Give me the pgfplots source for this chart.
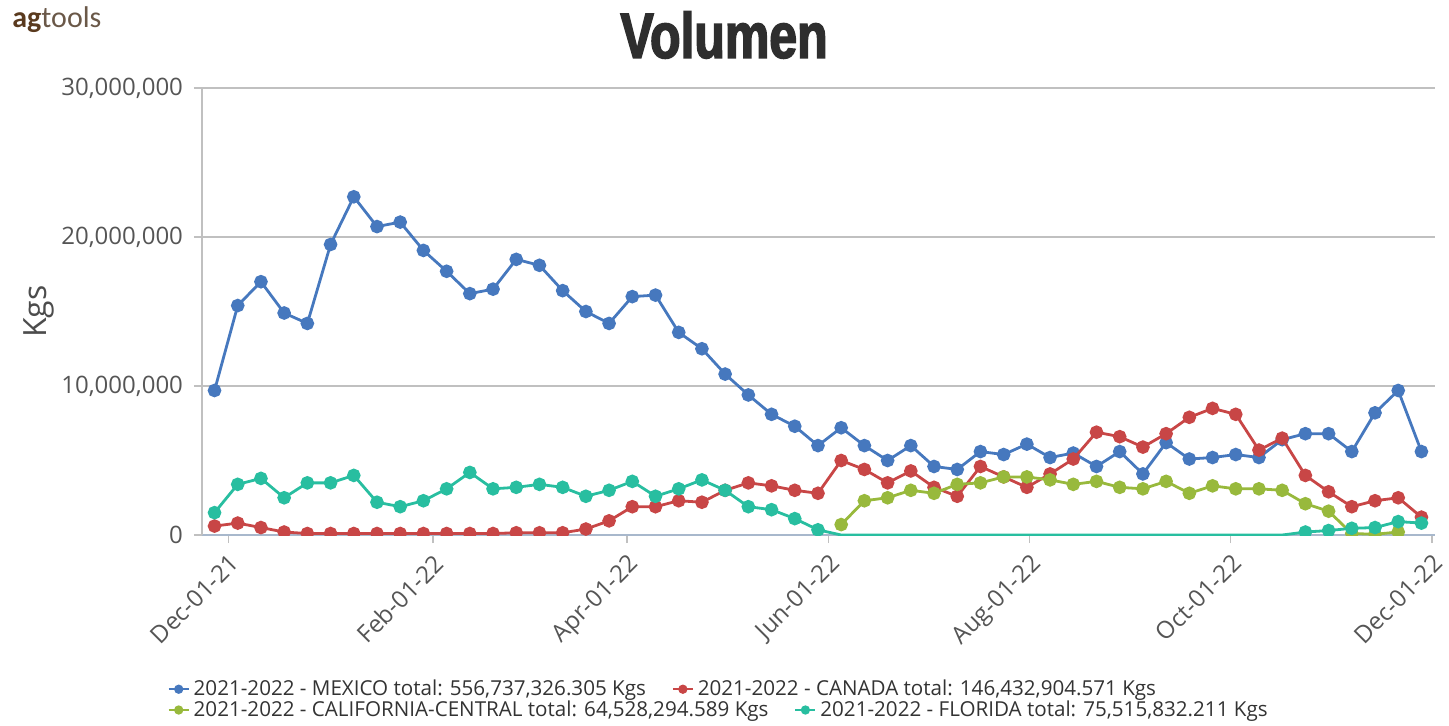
\documentclass[border=0pt]{standalone}
\usepackage{fontspec}
\setmainfont{Open Sans}
\newfontfamily\titlefont{Liberation Sans}[FakeStretch=0.78,FakeBold=2.5]
\newfontfamily\logofont{Carlito}
\usepackage{pgfplots}
\usepackage{pgfplotstable}
\pgfplotsset{compat=1.18}

\definecolor{mexblue}{HTML}{4678BE}
\definecolor{canred}{HTML}{C84646}
\definecolor{calgreen}{HTML}{98B93C}
\definecolor{flateal}{HTML}{28BEA0}
\definecolor{gridgrey}{HTML}{C0C0C0}
\definecolor{xaxisline}{HTML}{A8B8CC}
\definecolor{ticktext}{HTML}{555555}

% weekly volumes, millions of kg; x = days after Dec-01-21
\pgfplotstableread{
x      mex   can   fla
-4.2   9.7   0.6   1.5
2.84   15.4  0.8   3.4
9.88   17.0  0.5   3.8
16.92  14.9  0.2   2.5
23.96  14.2  0.1   3.5
31.0   19.5  0.1   3.5
38.04  22.7  0.1   4.0
45.08  20.7  0.1   2.2
52.12  21.0  0.1   1.9
59.16  19.1  0.1   2.3
66.2   17.7  0.1   3.1
73.24  16.2  0.1   4.2
80.28  16.5  0.1   3.1
87.32  18.5  0.15  3.2
94.36  18.1  0.15  3.4
101.4  16.4  0.15  3.2
108.44 15.0  0.4   2.6
115.48 14.2  0.95  3.0
122.52 16.0  1.9   3.6
129.56 16.1  1.9   2.6
136.6  13.6  2.3   3.1
143.64 12.5  2.2   3.7
150.68 10.8  3.0   3.0
157.72 9.4   3.5   1.9
164.76 8.1   3.3   1.7
171.8  7.3   3.0   1.1
178.84 6.0   2.8   0.35
185.88 7.2   5.0   0
192.92 6.0   4.4   0
199.96 5.0   3.5   0
207.0  6.0   4.3   0
214.04 4.6   3.2   0
221.08 4.4   2.6   0
228.12 5.6   4.6   0
235.16 5.4   3.9   0
242.2  6.1   3.2   0
249.24 5.2   4.1   0
256.28 5.5   5.1   0
263.32 4.6   6.9   0
270.36 5.6   6.6   0
277.4  4.1   5.9   0
284.44 6.2   6.8   0
291.48 5.1   7.9   0
298.52 5.2   8.5   0
305.56 5.4   8.1   0
312.6  5.2   5.7   0
319.64 6.4   6.5   0
326.68 6.8   4.0   0.2
333.72 6.8   2.9   0.3
340.76 5.6   1.9   0.45
347.8  8.2   2.3   0.5
354.84 9.7   2.5   0.9
361.88 5.6   1.2   0.8
}\voltab

\pgfplotstableread{
x      cal
185.88 0.7
192.92 2.3
199.96 2.5
207.0  3.0
214.04 2.8
221.08 3.4
228.12 3.5
235.16 3.9
242.2  3.9
249.24 3.7
256.28 3.4
263.32 3.6
270.36 3.2
277.4  3.1
284.44 3.6
291.48 2.8
298.52 3.3
305.56 3.1
312.6  3.1
319.64 3.0
326.68 2.1
333.72 1.6
340.76 0.1
347.8  0.05
354.84 0.2
}\caltab

\pgfplotsset{
  common/.style={
    scale only axis, width=616.5pt, height=223.5pt,
    xmin=-8, xmax=366, ymin=0, ymax=30,
    clip marker paths=true,
    legend cell align=left,
    legend image code/.code={\draw[mark repeat=2,mark phase=2]
      plot coordinates {(0pt,0pt) (5pt,0pt) (10pt,0pt)};},
    legend image post style={mark size=1.8pt, line width=1pt},
    legend style={draw=none, fill=none, font=\fontsize{10.3}{12}\selectfont,
      text=black!80, anchor=west,
      /tikz/every even column/.append style={column sep=11pt}},
    legend columns=2,
  },
  ser/.style={line width=1.4pt, color=#1, mark=*, mark size=2.7pt,
    mark options={solid, fill=#1, draw=#1}},
}

\begin{document}
\begin{tikzpicture}
\path[use as bounding box] (-101pt,-95pt) rectangle (623.5pt,267.5pt);

\begin{axis}[common,
  axis x line*=bottom, axis y line*=left,
  x axis line style={draw=xaxisline, line width=0.8pt, -},
  y axis line style={draw=gridgrey, line width=0.8pt, -},
  ymajorgrids, grid style={draw=gridgrey, line width=0.8pt},
  ytick={0,10,20,30},
  yticklabels={0,{10,000,000},{20,000,000},{30,000,000}},
  xtick={0,62,121,182,243,304,365},
  xticklabels={Dec-01-21,Feb-01-22,Apr-01-22,Jun-01-22,Aug-01-22,Oct-01-22,Dec-01-22},
  tick align=outside, major tick length=4pt,
  tick style={draw=gridgrey, line width=0.8pt},
  xticklabel style={rotate=45, anchor=north east, font=\fontsize{12}{14}\selectfont,
    text=ticktext},
  yticklabel style={font=\fontsize{12}{14}\selectfont, text=ticktext, xshift=-2pt},
  ylabel={Kgs},
  ylabel style={at={(axis description cs:-0.132,0.5)}, anchor=center,
    font=\fontsize{16}{18}\selectfont, text=black!70},
  legend style={at={(-0.033,-0.345)}},
]
\addplot[ser=mexblue] table[x=x, y=mex] {\voltab};
\addlegendentry{2021-2022 - MEXICO total: 556,737,326.305 Kgs}
\addplot[ser=canred] table[x=x, y=can] {\voltab};
\addlegendentry{2021-2022 - CANADA total: 146,432,904.571 Kgs}
\end{axis}

\begin{axis}[common, hide axis,
  legend style={at={(-0.033,-0.3915)}},
]
\addplot[ser=calgreen] table[x=x, y=cal] {\caltab};
\addlegendentry{2021-2022 - CALIFORNIA-CENTRAL total: 64,528,294.589 Kgs}
\addplot[forget plot, line width=1.4pt, color=flateal, no markers] table[x=x, y=fla] {\voltab};
\addplot[forget plot, only marks, ser=flateal,
  y filter/.expression={y==0 ? nan : y}] table[x=x, y=fla] {\voltab};
\addlegendimage{ser=flateal}
\addlegendentry{2021-2022 - FLORIDA total: 75,515,832.211 Kgs}
\end{axis}

\node[font=\titlefont\bfseries\fontsize{32}{34}\selectfont, text=black!82]
  at (261pt,250pt) {Volumen};
\node[anchor=west, font=\logofont\fontsize{15}{17}\selectfont, inner sep=0pt]
  at (-95pt,257.5pt) {\textcolor[HTML]{5A3A1E}{\bfseries ag}\textcolor[HTML]{6A5848}{tools}};
\end{tikzpicture}
\end{document}
